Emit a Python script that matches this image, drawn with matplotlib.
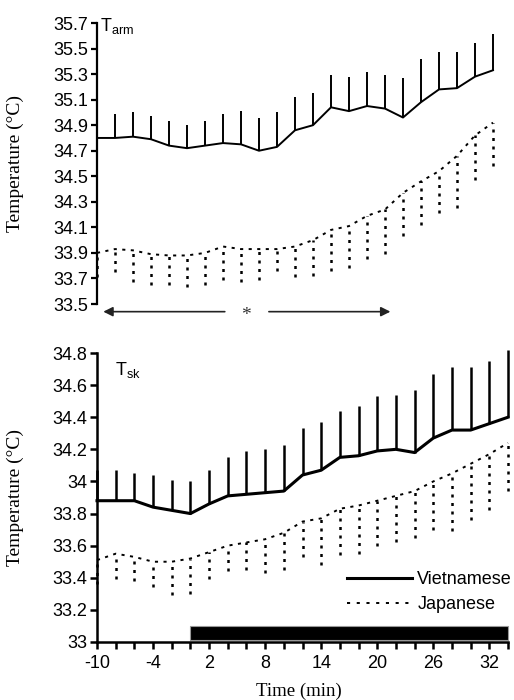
# Arm (T_arm) and mean skin (T_sk) temperature, Vietnamese vs Japanese.
# Two stacked panels, means with one-sided SD bars.
import matplotlib
matplotlib.use("Agg")
import matplotlib.pyplot as plt
from matplotlib.lines import Line2D

# --- data -----------------------------------------------------------------
time_min = [-10, -8, -6, -4, -2, 0, 2, 4, 6, 8, 10, 12,
            14, 16, 18, 20, 22, 24, 26, 28, 30, 32, 34]

arm_vn = [34.80, 34.80, 34.81, 34.79, 34.74, 34.72, 34.74, 34.76, 34.75, 34.70, 34.73, 34.86,
          34.90, 35.04, 35.01, 35.05, 35.03, 34.96, 35.08, 35.18, 35.19, 35.28, 35.33]
arm_vn_sd = [0.20, 0.19, 0.19, 0.18, 0.19, 0.18, 0.19, 0.23, 0.26, 0.26, 0.27, 0.26,
             0.25, 0.25, 0.27, 0.27, 0.26, 0.31, 0.34, 0.29, 0.28, 0.26, 0.28]
arm_jp = [33.90, 33.93, 33.92, 33.89, 33.88, 33.88, 33.90, 33.95, 33.93, 33.93, 33.93, 33.95,
          34.00, 34.08, 34.11, 34.19, 34.24, 34.37, 34.46, 34.54, 34.66, 34.82, 34.92]
arm_jp_sd = [0.19, 0.18, 0.25, 0.24, 0.23, 0.25, 0.25, 0.26, 0.26, 0.24, 0.17, 0.24,
             0.28, 0.32, 0.33, 0.34, 0.35, 0.34, 0.34, 0.33, 0.41, 0.35, 0.34]

sk_vn = [33.88, 33.88, 33.88, 33.84, 33.82, 33.80, 33.86, 33.91, 33.92, 33.93, 33.94, 34.04,
         34.07, 34.15, 34.16, 34.19, 34.20, 34.18, 34.27, 34.32, 34.32, 34.36, 34.40]
sk_vn_sd = [0.19, 0.19, 0.17, 0.20, 0.19, 0.20, 0.21, 0.24, 0.27, 0.27, 0.29, 0.29,
            0.30, 0.29, 0.31, 0.34, 0.34, 0.39, 0.40, 0.39, 0.39, 0.39, 0.42]
sk_jp = [33.51, 33.55, 33.53, 33.50, 33.50, 33.52, 33.56, 33.60, 33.62, 33.64, 33.68, 33.75,
         33.77, 33.83, 33.85, 33.88, 33.91, 33.94, 34.00, 34.05, 34.11, 34.17, 34.24]
sk_jp_sd = [0.15, 0.16, 0.15, 0.16, 0.21, 0.22, 0.17, 0.16, 0.17, 0.21, 0.23, 0.22,
            0.29, 0.29, 0.30, 0.28, 0.29, 0.29, 0.30, 0.36, 0.35, 0.35, 0.30]

arm_yticks = [33.5, 33.7, 33.9, 34.1, 34.3, 34.5, 34.7, 34.9, 35.1, 35.3, 35.5, 35.7]
sk_yticks = [33.0, 33.2, 33.4, 33.6, 33.8, 34.0, 34.2, 34.4, 34.6, 34.8]
time_labels = [-10, -4, 2, 8, 14, 20, 26, 32]

sig_span = [-9.3, 22.6]      # extent of the significance arrows (top panel)
sig_star_x = 6.6
exposure = [0, 34]           # black bar in the bottom panel
exposure_y = [33.01, 33.10]

# --- style ------------------------------------------------------------------
plt.rcParams["font.family"] = ["Liberation Sans", "DejaVu Sans"]
plt.rcParams["axes.unicode_minus"] = False
SERIF = ["Liberation Serif", "DejaVu Serif"]
JP_LINE = (0, (1.6, 2.8))
JP_BAR = (0, (1.2, 2.2))
TICK_FS = 13

fig = plt.figure(figsize=(5.14, 7.0), dpi=100)
ax1 = fig.add_axes([97 / 514, 1 - 304 / 700, 396 / 514, 281 / 700])
ax2 = fig.add_axes([97 / 514, 1 - 642 / 700, 411 / 514, 289 / 700])


def lo(m, s):
    return [a - b for a, b in zip(m, s)]


def hi(m, s):
    return [a + b for a, b in zip(m, s)]


# --- top panel: T_arm --------------------------------------------------------
ax1.plot(time_min, arm_vn, color="k", lw=1.4, clip_on=False, zorder=3)
ax1.vlines(time_min, arm_vn, hi(arm_vn, arm_vn_sd), colors="k", lw=1.4, clip_on=False)
ax1.plot(time_min, arm_jp, color="k", lw=1.4, ls=JP_LINE, clip_on=False)
ax1.vlines(time_min, lo(arm_jp, arm_jp_sd), arm_jp, colors="k", lw=1.8,
           linestyles=[JP_BAR], clip_on=False)

ax1.set_xlim(-10, 34)
ax1.set_ylim(33.5, 35.7)
ax1.set_xticks([])
ax1.set_yticks(arm_yticks)
ax1.set_yticklabels([f"{v:.1f}" for v in arm_yticks])
for s in ("top", "right", "bottom"):
    ax1.spines[s].set_visible(False)
ax1.spines["left"].set_linewidth(1.6)
ax1.tick_params(axis="y", direction="out", length=4.5, width=1.6, pad=2,
                labelsize=TICK_FS)
ax1.set_ylabel("Temperature (\u00b0C)", family=SERIF, fontsize=14)
ax1.yaxis.set_label_coords(-0.185, 0.5)
ax1.text(0.008, 1.025, r"T$_{\mathregular{arm}}$", transform=ax1.transAxes,
         ha="left", va="top", fontsize=13)

# significance arrows
arr_y = 33.44
gap = 2.4
akw = dict(arrowstyle="-|>", color="#222222", lw=1.2, mutation_scale=14,
           shrinkA=0, shrinkB=0)
ax1.annotate("", xy=(sig_span[0], arr_y), xytext=(sig_star_x - gap, arr_y),
             arrowprops=akw, annotation_clip=False)
ax1.annotate("", xy=(sig_span[1], arr_y), xytext=(sig_star_x + gap + 0.1, arr_y),
             arrowprops=akw, annotation_clip=False)
ax1.text(sig_star_x, arr_y - 0.03, "*", family=SERIF, fontsize=14,
         ha="center", va="center", color="#333333")

# --- bottom panel: T_sk ------------------------------------------------------
ax2.plot(time_min, sk_vn, color="k", lw=2.2, clip_on=False, zorder=3)
ax2.vlines(time_min, sk_vn, hi(sk_vn, sk_vn_sd), colors="k", lw=1.8, clip_on=False)
ax2.plot(time_min, sk_jp, color="k", lw=1.4, ls=JP_LINE, clip_on=False)
ax2.vlines(time_min, lo(sk_jp, sk_jp_sd), sk_jp, colors="k", lw=1.8,
           linestyles=[JP_BAR], clip_on=False)

ax2.barh((exposure_y[0] + exposure_y[1]) / 2, exposure[1] - exposure[0],
         left=exposure[0], height=exposure_y[1] - exposure_y[0],
         color="k", edgecolor="#999999", lw=0.8, clip_on=False)

ax2.set_xlim(-10, 34)
ax2.set_ylim(33.0, 34.8)
ax2.set_xticks(time_labels)
ax2.set_xticks(time_min, minor=True)
ax2.set_yticks(sk_yticks)
ax2.set_yticklabels([f"{v:g}" for v in sk_yticks])
for s in ("top", "right"):
    ax2.spines[s].set_visible(False)
for s in ("left", "bottom"):
    ax2.spines[s].set_linewidth(1.8)
ax2.tick_params(axis="both", which="both", direction="out", length=5, width=1.8,
                pad=2, labelsize=TICK_FS)
ax2.tick_params(axis="x", pad=4)
ax2.set_ylabel("Temperature (\u00b0C)", family=SERIF, fontsize=14)
ax2.yaxis.set_label_coords(-0.178, 0.5)
ax2.set_xlabel("Time (min)", family=SERIF, fontsize=13.5)
ax2.xaxis.set_label_coords(0.49, -0.14)
ax2.text(0.044, 0.975, r"T$_{\mathregular{sk}}$", transform=ax2.transAxes,
         ha="left", va="top", fontsize=13)

handles = [Line2D([], [], color="k", lw=2.2),
           Line2D([], [], color="k", lw=1.4, ls=(0, (1.6, 3.4)))]
ax2.legend(handles, ["Vietnamese", "Japanese"], loc="lower right",
           bbox_to_anchor=(1.01, 0.10), frameon=False, fontsize=13,
           handlelength=3.6, handletextpad=0.3, labelspacing=0.45,
           borderaxespad=0, borderpad=0)

fig.savefig("out.png", dpi=100)
